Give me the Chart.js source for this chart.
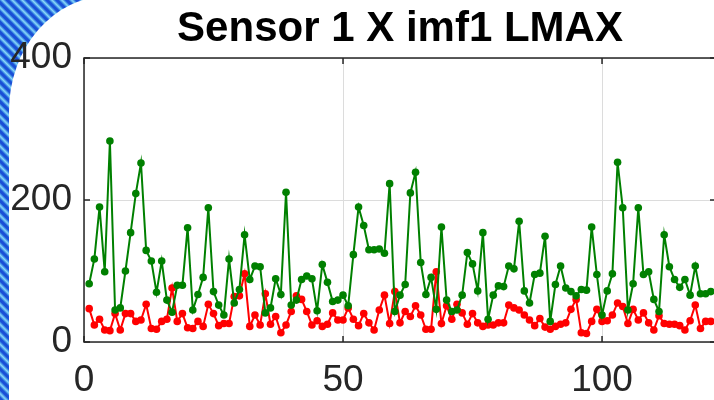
<!DOCTYPE html>
<html>
<head>
<meta charset="utf-8">
<title>Sensor 1 X imf1 LMAX</title>
<script src="https://cdn.jsdelivr.net/npm/chart.js@4.4.1/dist/chart.umd.min.js"></script>
<style>
  html, body { margin: 0; padding: 0; width: 714px; height: 400px; overflow: hidden; }
  body {
    position: relative;
    background: repeating-linear-gradient(45deg,
      #1a4fd6 0px, #1a4fd6 2px, #3f8fe6 3px, #8cd8f8 4.5px, #3f8fe6 6px, #1a4fd6 7px);
  }
  #panel {
    position: absolute; left: 9px; top: -4px; width: 780px; height: 440px;
    background: #fff; border-top-left-radius: 100px 115px;
  }
  #wrap { position: absolute; left: 0; top: 0; width: 720px; height: 400px; }
</style>
</head>
<body>
<div id="panel"></div>
<div id="wrap"><canvas id="chart" width="720" height="400"></canvas></div>
<script>
// IMF1 local maxima, sensor 1 X axis
const greenValues = [
  82, 117, 190, 99, 283, 45, 48, 100, 154, 209,
  252, 129, 114, 70, 114, 59, 42, 80, 80, 161,
  45, 67, 91, 189, 71, 52, 38, 117, 55, 74,
  151, 88, 107, 106, 41, 48, 89, 67, 211, 52,
  59, 88, 93, 89, 44, 109, 84, 57, 59, 66,
  51, 123, 190, 164, 130, 130, 131, 125, 223, 43,
  66, 81, 210, 239, 112, 67, 91, 46, 162, 59,
  43, 45, 66, 126, 110, 72, 154, 32, 66, 79,
  78, 107, 103, 170, 72, 55, 95, 97, 149, 29,
  81, 107, 76, 71, 65, 74, 73, 162, 95, 38,
  72, 96, 253, 189, 45, 82, 189, 95, 99, 60,
  43, 151, 106, 88, 77, 88, 66, 107, 68, 68,
  71
];
const redValues = [
  47, 24, 32, 17, 16, 40, 17, 40, 40, 29,
  31, 53, 19, 18, 29, 32, 76, 29, 40, 20,
  19, 29, 22, 53, 40, 23, 26, 26, 64, 65,
  96, 22, 38, 24, 68, 25, 36, 13, 24, 43,
  65, 60, 43, 24, 30, 22, 25, 41, 31, 31,
  48, 32, 23, 40, 27, 17, 45, 66, 26, 71,
  27, 43, 36, 51, 38, 18, 18, 99, 26, 51,
  32, 53, 41, 25, 40, 27, 22, 24, 24, 27,
  27, 52, 48, 45, 38, 31, 23, 33, 21, 18,
  22, 25, 27, 46, 60, 13, 12, 29, 46, 29,
  30, 38, 55, 50, 26, 46, 31, 41, 27, 17,
  37, 26, 25, 25, 23, 17, 30, 52, 19, 29,
  29
];
const xTicks = [0, 50, 100];
const yTicks = [0, 200, 400];

const toPoints = vals => vals.map((v, i) => ({ x: i + 1, y: v }));

const axisColor = '#262626';
const tickFont = { family: 'Liberation Sans, Arial, sans-serif', size: 37 };

// matlab style box with inward ticks on all four sides
const axesBox = {
  id: 'axesBox',
  beforeDatasetsDraw(chart) {
    const { ctx, chartArea: a, scales: { x, y } } = chart;
    const len = 6;
    ctx.save();
    ctx.strokeStyle = axisColor;
    ctx.lineWidth = 1.5;
    ctx.strokeRect(a.left, a.top, a.right - a.left, a.bottom - a.top);
    ctx.beginPath();
    xTicks.forEach(v => {
      const px = x.getPixelForValue(v);
      ctx.moveTo(px, a.bottom); ctx.lineTo(px, a.bottom - len);
      ctx.moveTo(px, a.top); ctx.lineTo(px, a.top + len);
    });
    yTicks.forEach(v => {
      const py = y.getPixelForValue(v);
      ctx.moveTo(a.left, py); ctx.lineTo(a.left + len, py);
      ctx.moveTo(a.right, py); ctx.lineTo(a.right - len, py);
    });
    ctx.stroke();
    ctx.restore();
  }
};

new Chart(document.getElementById('chart'), {
  type: 'line',
  data: {
    datasets: [
      {
        label: 'green',
        data: toPoints(greenValues),
        borderColor: '#008000',
        backgroundColor: '#008000',
        borderWidth: 2,
        pointRadius: 3.8,
        pointBorderWidth: 0,
        tension: 0,
      },
      {
        label: 'red',
        data: toPoints(redValues),
        borderColor: '#ff0000',
        backgroundColor: '#ff0000',
        borderWidth: 2,
        pointRadius: 3.8,
        pointBorderWidth: 0,
        tension: 0,
      },
    ],
  },
  options: {
    responsive: false,
    animation: false,
    devicePixelRatio: 1,
    layout: { padding: { left: 0, right: 4, top: 0, bottom: 0 } },
    plugins: {
      legend: { display: false },
      tooltip: { enabled: false },
      title: {
        display: true,
        fullSize: false,
        text: 'Sensor 1 X imf1 LMAX',
        color: '#000',
        font: { family: 'Liberation Sans, Arial, sans-serif', size: 42, weight: 'bold' },
        padding: { top: 4, bottom: 3.6 },
      },
    },
    scales: {
      x: {
        type: 'linear',
        min: 0,
        max: 122,
        border: { display: false },
        grid: { color: '#dcdcdc', lineWidth: 1, drawTicks: false },
        ticks: {
          stepSize: 50,
          includeBounds: false,
          color: axisColor,
          font: tickFont,
          padding: 17,
          maxRotation: 0,
        },
        afterFit: s => { s.height = 58; },
      },
      y: {
        min: 0,
        max: 400,
        border: { display: false },
        grid: { color: '#dcdcdc', lineWidth: 1, drawTicks: false },
        ticks: {
          stepSize: 200,
          color: axisColor,
          font: tickFont,
          padding: 12,
        },
        afterFit: s => { s.width = 84; },
      },
    },
  },
  plugins: [axesBox],
});
</script>
</body>
</html>
